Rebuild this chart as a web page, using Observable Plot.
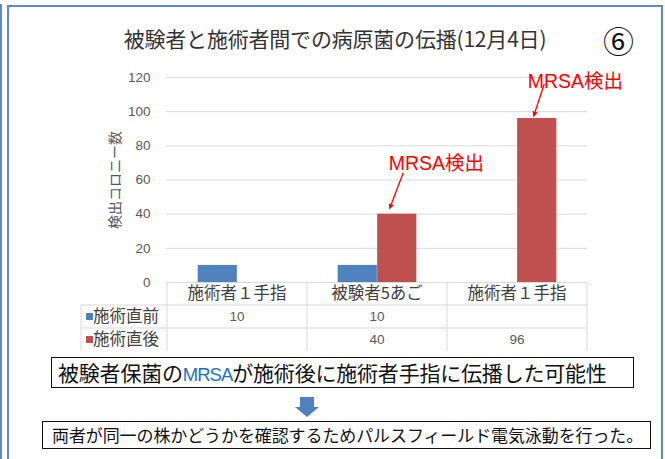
<!DOCTYPE html>
<html>
<head>
<meta charset="utf-8">
<script src="https://cdn.jsdelivr.net/npm/d3@7"></script>
<script src="https://cdn.jsdelivr.net/npm/@observablehq/plot@0.6"></script>
<style>
  html, body { margin: 0; padding: 0; background: #fff; }
  body { width: 665px; height: 459px; overflow: hidden; position: relative;
         font-family: "Noto Sans CJK JP", "Noto Sans", sans-serif; }
  #chart { position: absolute; left: 0; top: 0; }
  .abs { position: absolute; white-space: nowrap; }
  #frame { position: absolute; left: 7px; top: 5px; width: 652px; height: 470px;
           border: 2px solid #5f89c6; border-bottom: none; }
  #edge { position: absolute; left: 0; top: 4px; width: 2px; height: 470px; background: #5f89c6; }
  #title { left: 0; width: 670px; top: 23px; text-align: center; font-size: 21px; color: #333; letter-spacing: -0.2px; }
  #num { left: 603px; top: 17px; font-size: 31px; color: #111; }
  #box1 { left: 51px; top: 357px; width: 575px; height: 29px; border: 1.5px solid #111;
          font-size: 21px; line-height: 29px; padding-left: 6px; color: #111; letter-spacing: -0.2px; }
  #box1 .m { color: #1f6fc5; font-family: "Liberation Sans", sans-serif; font-size: 18.5px; letter-spacing: -1px; }
  #box2 { left: 42px; top: 421px; width: 598px; height: 26px; border: 1px solid #111;
          font-size: 17px; line-height: 26px; padding-left: 9px; color: #111; letter-spacing: -0.1px; }
  #arrow { position: absolute; left: 295px; top: 396px; }
</style>
</head>
<body>
<div id="edge"></div>
<div id="frame"></div>
<div id="chart"></div>
<div id="title" class="abs">被験者と施術者間での病原菌の伝播(12月4日)</div>
<div id="num" class="abs">⑥</div>
<div id="box1" class="abs">被験者保菌の<span class="m">MRSA</span>が施術後に施術者手指に伝播した可能性</div>
<svg id="arrow" width="26" height="24"><polygon points="5,1 19,1 19,11 24,11 12,21 0,11 5,11" fill="#4f81bd"/></svg>
<div id="box2" class="abs">両者が同一の株かどうかを確認するためパルスフィールド電気泳動を行った。</div>
<script>
// ---- data ----
const categories = ["施術者１手指", "被験者5あご", "施術者１手指"];
const seriesNames = ["施術直前", "施術直後"];
const before = [10, 10, null];
const after = [null, 40, 96];
const yTicks = [0, 20, 40, 60, 80, 100, 120];
const annotCats = [1, 2];
const annotLabels = ["MRSA検出", "MRSA検出"];

// ---- layout / style ----
const W = 665, H = 459;
const mL = 166, mR = 78, mT = 77, mB = 177;
const barW = 39.5;
const bw = (W - mL - mR) / categories.length;
const colors = ["#4f81bd", "#c0504d"];
const gridColor = "#d9d9d9";
const cjk = "'Noto Sans CJK JP', sans-serif";
const latin = "'Liberation Sans', 'Noto Sans CJK JP', sans-serif";

const idx = d3.range(categories.length);

function tableMark(index, scales) {
  const x = scales.x, y = scales.y;
  const b = x.bandwidth();
  const y0 = y(0), rowH = 23;
  const left = x(0), right = x(categories.length - 1) + b, labelLeft = left - 86;
  const g = d3.create("svg:g");
  const line = (x1, y1, x2, y2) => g.append("line").attr("x1", x1).attr("y1", y1).attr("x2", x2).attr("y2", y2)
      .attr("stroke", gridColor).attr("stroke-width", 1);
  line(labelLeft, y0 + rowH, right, y0 + rowH);
  line(labelLeft, y0 + 2 * rowH, right, y0 + 2 * rowH);
  line(labelLeft, y0 + rowH, labelLeft, y0 + 3 * rowH);
  for (let i = 0; i <= categories.length; i++) {
    const xx = i < categories.length ? x(i) : right;
    line(xx, y0, xx, y0 + 3 * rowH);
  }
  categories.forEach((c, i) => {
    g.append("text").attr("x", x(i) + b / 2).attr("y", y0 + rowH / 2).attr("dy", "0.36em")
      .attr("text-anchor", "middle").attr("font-size", 16.5).attr("font-family", cjk).attr("fill", "#404040").text(c);
  });
  const rows = [before, after];
  rows.forEach((vals, r) => {
    const cy = y0 + rowH * (r + 1) + rowH / 2;
    g.append("rect").attr("x", labelLeft + 5).attr("y", cy - 3.5).attr("width", 7).attr("height", 7).attr("fill", colors[r]);
    g.append("text").attr("x", labelLeft + 12).attr("y", cy).attr("dy", "0.36em").attr("text-anchor", "start")
      .attr("font-size", 16.5).attr("font-family", cjk).attr("fill", "#404040").text(seriesNames[r]);
    vals.forEach((v, i) => {
      if (v == null) return;
      g.append("text").attr("x", x(i) + b / 2).attr("y", cy).attr("dy", "0.36em")
        .attr("text-anchor", "middle").attr("font-size", 13.5).attr("font-family", latin).attr("fill", "#595959").text(v);
    });
  });
  return g.node();
}

const annotOffsets = [
  {tx: -8, ty: -51, ax1: 6.5, ay1: -41, ax2: -7.5, ay2: -4},
  {tx: -9, ty: -37, ax1: 7.5, ay1: -34, ax2: -3.5, ay2: -0.5}
];
function annotMark(index, scales) {
  const x = scales.x, y = scales.y;
  const b = x.bandwidth();
  const g = d3.create("svg:g");
  annotCats.forEach((c, k) => {
    const o = annotOffsets[k];
    const cx = x(c) + b / 2 + barW / 2;
    const cy = y(after[c]);
    const t = g.append("text").attr("x", cx + o.tx).attr("y", cy + o.ty).attr("dy", "0.36em")
      .attr("text-anchor", "start").attr("fill", "#ff0000").attr("font-size", 19.5);
    t.append("tspan").attr("font-family", latin).text(annotLabels[k].slice(0, 4));
    t.append("tspan").attr("font-family", cjk).text(annotLabels[k].slice(4));
    const x1 = cx + o.ax1, y1 = cy + o.ay1, x2 = cx + o.ax2, y2 = cy + o.ay2;
    const ang = Math.atan2(y2 - y1, x2 - x1), hl = 6, hw = 2.6;
    const bx = x2 - hl * Math.cos(ang), by = y2 - hl * Math.sin(ang);
    g.append("line").attr("x1", x1).attr("y1", y1).attr("x2", bx).attr("y2", by)
      .attr("stroke", "#ff0000").attr("stroke-width", 1.3);
    g.append("polygon").attr("points", [
      [x2, y2],
      [bx + hw * Math.sin(ang), by - hw * Math.cos(ang)],
      [bx - hw * Math.sin(ang), by + hw * Math.cos(ang)]
    ].map(p => p.join(",")).join(" ")).attr("fill", "#ff0000");
  });
  return g.node();
}

const chart = Plot.plot({
  width: W, height: H,
  marginLeft: mL, marginRight: mR, marginTop: mT, marginBottom: mB,
  style: {background: "transparent", color: "#595959", fontSize: "13.5px", fontFamily: latin, overflow: "visible"},
  x: {type: "band", domain: idx, paddingInner: 0, paddingOuter: 0, axis: null},
  y: {domain: [0, 120], ticks: yTicks, tickSize: 0, tickPadding: 16, label: null},
  marks: [
    Plot.ruleY(yTicks, {stroke: gridColor, strokeWidth: 1}),
    Plot.barY(idx.filter(i => before[i] != null), {
      x: i => i, y: i => before[i], fill: colors[0],
      insetLeft: bw / 2 - barW, insetRight: bw / 2
    }),
    Plot.barY(idx.filter(i => after[i] != null), {
      x: i => i, y: i => after[i], fill: colors[1],
      insetLeft: bw / 2, insetRight: bw / 2 - barW
    }),
    tableMark,
    annotMark,
    Plot.text(["検出コロニー数"], {
      frameAnchor: "left", dx: -51, text: d => d, rotate: -90, textAnchor: "middle",
      fontSize: 14, fontFamily: cjk, fill: "#595959"
    })
  ]
});
document.getElementById("chart").appendChild(chart);
</script>
</body>
</html>
